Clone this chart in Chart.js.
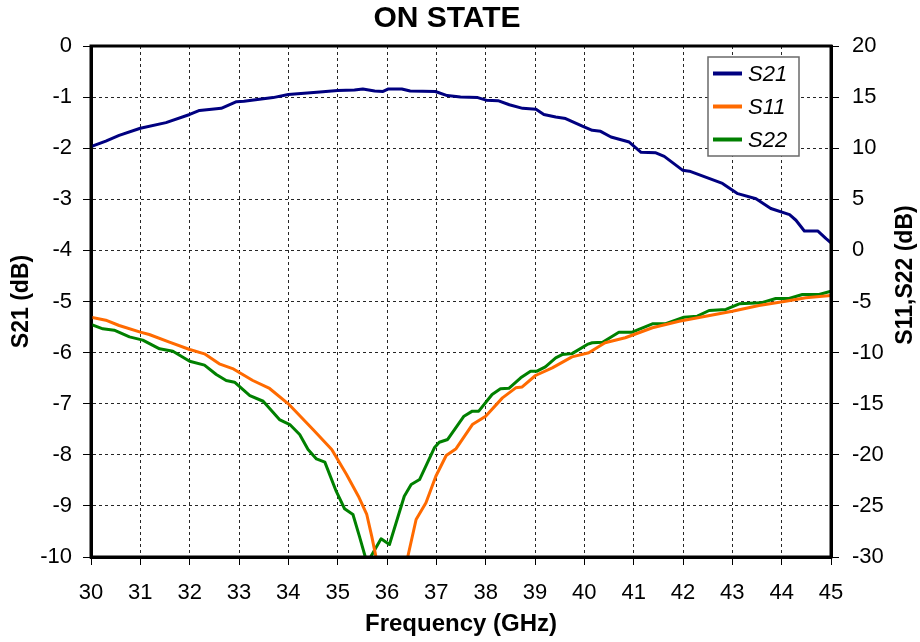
<!DOCTYPE html>
<html>
<head>
<meta charset="utf-8">
<script src="https://cdn.jsdelivr.net/npm/chart.js@4/dist/chart.umd.min.js"></script>
<style>
html,body{margin:0;padding:0;background:#fff;}
#wrap{width:920px;height:642px;}
</style>
</head>
<body>
<div id="wrap"><canvas id="c" width="920" height="642"></canvas></div>
<script>
// ---- data ----
const chartTitle = "ON STATE";
const xTitle = "Frequency (GHz)";
const yLeftTitle = "S21 (dB)";
const yRightTitle = "S11,S22 (dB)";
const seriesNames = ["S21", "S11", "S22"];

const s21Freq = [30.0,30.3,30.57,31.0,31.52,32.0,32.2,32.64,32.95,33.1,33.69,34.0,34.64,35.0,35.34,35.51,35.75,35.92,36.03,36.3,36.47,36.98,37.22,37.49,37.84,38.01,38.25,38.48,38.75,39.02,39.18,39.42,39.62,39.96,40.16,40.33,40.54,40.91,41.15,41.45,41.62,41.99,42.13,42.8,43.11,43.48,43.78,44.16,44.29,44.46,44.73,44.9,45.0];
const s21Vals = [-1.97,-1.86,-1.75,-1.61,-1.50,-1.34,-1.26,-1.22,-1.09,-1.08,-1.01,-0.95,-0.90,-0.87,-0.86,-0.84,-0.88,-0.89,-0.84,-0.84,-0.88,-0.89,-0.97,-1.00,-1.01,-1.06,-1.07,-1.15,-1.22,-1.24,-1.34,-1.39,-1.42,-1.57,-1.65,-1.67,-1.78,-1.88,-2.08,-2.09,-2.16,-2.43,-2.45,-2.69,-2.89,-2.99,-3.18,-3.30,-3.41,-3.62,-3.62,-3.77,-3.85];

const s11Freq = [30.0,30.3,30.57,31.0,31.18,31.59,32.0,32.3,32.6,32.87,33.28,33.62,34.0,34.5,34.88,35.18,35.42,35.59,35.69,35.76,35.85,36.1,36.35,36.42,36.59,36.79,36.99,37.2,37.4,37.73,38.0,38.34,38.61,38.74,39.01,39.35,39.75,40.09,40.42,40.83,41.38,41.92,42.46,43.0,43.54,44.08,44.49,45.0];
const s11Vals = [-6.54,-6.83,-7.35,-8.0,-8.23,-8.98,-9.70,-10.12,-11.1,-11.56,-12.73,-13.51,-15.01,-17.52,-19.48,-21.93,-24.05,-25.84,-27.96,-29.6,-31.8,-35,-31.5,-30,-26.33,-24.7,-22.1,-20.07,-19.4,-17.04,-16.22,-14.43,-13.45,-13.36,-12.24,-11.49,-10.42,-10.02,-9.04,-8.55,-7.57,-6.93,-6.44,-5.95,-5.39,-4.97,-4.64,-4.41];

const s22Freq = [30.0,30.24,30.47,30.78,31.05,31.39,31.66,32.0,32.3,32.54,32.74,32.91,33.22,33.49,33.82,34.03,34.23,34.4,34.57,34.74,34.97,35.14,35.31,35.44,35.56,35.62,35.88,36.05,36.35,36.49,36.66,36.96,37.06,37.23,37.56,37.73,37.86,38.13,38.3,38.47,38.71,38.91,39.04,39.21,39.42,39.55,39.75,40.06,40.16,40.37,40.7,40.97,41.38,41.65,42.02,42.29,42.53,42.87,43.14,43.58,43.88,44.15,44.42,44.76,45.0];
const s22Vals = [-7.25,-7.67,-7.81,-8.46,-8.78,-9.63,-9.86,-10.84,-11.23,-12.14,-12.73,-12.9,-14.2,-14.76,-16.55,-17.04,-18.02,-19.48,-20.4,-20.72,-23.56,-25.28,-25.84,-27.96,-30.0,-30.4,-28.22,-28.78,-24.05,-22.9,-22.42,-19.32,-18.77,-18.5,-16.22,-15.73,-15.73,-14.1,-13.54,-13.5,-12.47,-11.82,-11.82,-11.39,-10.51,-10.19,-10.1,-9.2,-9.04,-8.98,-8.0,-8.0,-7.18,-7.18,-6.54,-6.44,-5.88,-5.78,-5.23,-5.13,-4.71,-4.71,-4.32,-4.32,-3.99];

const xTicks = [30,31,32,33,34,35,36,37,38,39,40,41,42,43,44,45];
const yLeftTicks = [0,-1,-2,-3,-4,-5,-6,-7,-8,-9,-10];
const yRightTicks = [20,15,10,5,0,-5,-10,-15,-20,-25,-30];

// ---- build ----
const FONT = "'Liberation Sans', Arial, sans-serif";
const pts = (f, v) => f.map((x, i) => ({x: x, y: v[i]}));
const colors = ["#000080", "#FF6A00", "#008000"];

const framePlugin = {
  id: 'frame',
  afterDraw(chart) {
    const {ctx, chartArea: a} = chart;
    ctx.save();
    ctx.strokeStyle = '#000';
    ctx.lineWidth = 3;
    ctx.setLineDash([]);
    ctx.strokeRect(a.left, a.top, a.right - a.left, a.bottom - a.top);
    // title
    ctx.fillStyle = '#000';
    ctx.font = "bold 30px " + FONT;
    ctx.textAlign = 'center';
    ctx.textBaseline = 'middle';
    ctx.fillText(chartTitle, 447, 19);
    // right axis title (reads bottom-to-top)
    ctx.save();
    ctx.translate(906, 275);
    ctx.rotate(-Math.PI / 2);
    ctx.font = "bold 23px " + FONT;
    ctx.fillText(yRightTitle, 0, 0);
    ctx.restore();
    // legend
    const lx = 708, ly = 57, lw = 91, lh = 99;
    ctx.fillStyle = '#fff';
    ctx.fillRect(lx, ly, lw, lh);
    ctx.strokeStyle = '#6a6a6a';
    ctx.lineWidth = 1.5;
    ctx.strokeRect(lx, ly, lw, lh);
    chart.data.datasets.forEach((ds, i) => {
      const y = 73.5 + i * 33;
      ctx.strokeStyle = ds.borderColor;
      ctx.lineWidth = 4;
      ctx.beginPath();
      ctx.moveTo(713, y);
      ctx.lineTo(742, y);
      ctx.stroke();
      ctx.fillStyle = '#000';
      ctx.font = "italic 22px " + FONT;
      ctx.textAlign = 'left';
      ctx.textBaseline = 'middle';
      ctx.fillText(ds.label, 748, y + 1);
    });
    ctx.restore();
  }
};

new Chart(document.getElementById('c'), {
  type: 'line',
  data: {
    datasets: [
      {label: seriesNames[0], data: pts(s21Freq, s21Vals), yAxisID: 'y', borderColor: colors[0]},
      {label: seriesNames[1], data: pts(s11Freq, s11Vals), yAxisID: 'y2', borderColor: colors[1]},
      {label: seriesNames[2], data: pts(s22Freq, s22Vals), yAxisID: 'y2', borderColor: colors[2]}
    ]
  },
  options: {
    responsive: false,
    animation: false,
    devicePixelRatio: 1,
    layout: {padding: {top: 46, left: 0, right: 0, bottom: 0}},
    elements: {
      line: {borderWidth: 3, tension: 0, fill: false, borderCapStyle: 'round', borderJoinStyle: 'round'},
      point: {radius: 0}
    },
    plugins: {legend: {display: false}, title: {display: false}, tooltip: {enabled: false}},
    scales: {
      x: {
        type: 'linear', position: 'bottom', min: 30, max: 45,
        afterBuildTicks: s => { s.ticks = xTicks.map(v => ({value: v})); },
        afterFit: s => { s.height = 85; s.paddingLeft = 0; s.paddingRight = 0; },
        ticks: {color: '#000', font: {family: FONT, size: 22}, padding: 15, maxRotation: 0, autoSkip: false},
        grid: {color: 'rgba(0,0,0,0.85)', lineWidth: 1, tickLength: 8, tickColor: '#000', tickBorderDash: [], tickWidth: 1},
        border: {display: true, color: '#000', width: 3, dash: [3, 3]},
        title: {display: true, text: xTitle, color: '#000', font: {family: FONT, size: 24, weight: 'bold'}, padding: {top: 0, bottom: 3}}
      },
      y: {
        type: 'linear', position: 'left', min: -10, max: 0,
        afterBuildTicks: s => { s.ticks = yLeftTicks.map(v => ({value: v})); },
        afterFit: s => { s.width = 91; s.paddingTop = 0; s.paddingBottom = 0; },
        ticks: {color: '#000', font: {family: FONT, size: 22}, padding: 11},
        grid: {color: 'rgba(0,0,0,0.85)', lineWidth: 1, tickLength: 8, tickColor: '#000', tickBorderDash: [], tickWidth: 1},
        border: {display: true, color: '#000', width: 3, dash: [3, 3]},
        title: {display: true, text: yLeftTitle, color: '#000', font: {family: FONT, size: 23, weight: 'bold'}, padding: {top: 8, bottom: 0}}
      },
      y2: {
        type: 'linear', position: 'right', min: -30, max: 20,
        afterBuildTicks: s => { s.ticks = yRightTicks.map(v => ({value: v})); },
        afterFit: s => { s.width = 89; s.paddingTop = 0; s.paddingBottom = 0; },
        ticks: {color: '#000', font: {family: FONT, size: 22}, padding: 13},
        grid: {drawOnChartArea: false, drawTicks: true, color: '#000', tickLength: 8, tickColor: '#000', tickBorderDash: [], tickWidth: 1},
        border: {display: true, color: '#000', width: 3}
      }
    }
  },
  plugins: [framePlugin]
});
</script>
</body>
</html>
